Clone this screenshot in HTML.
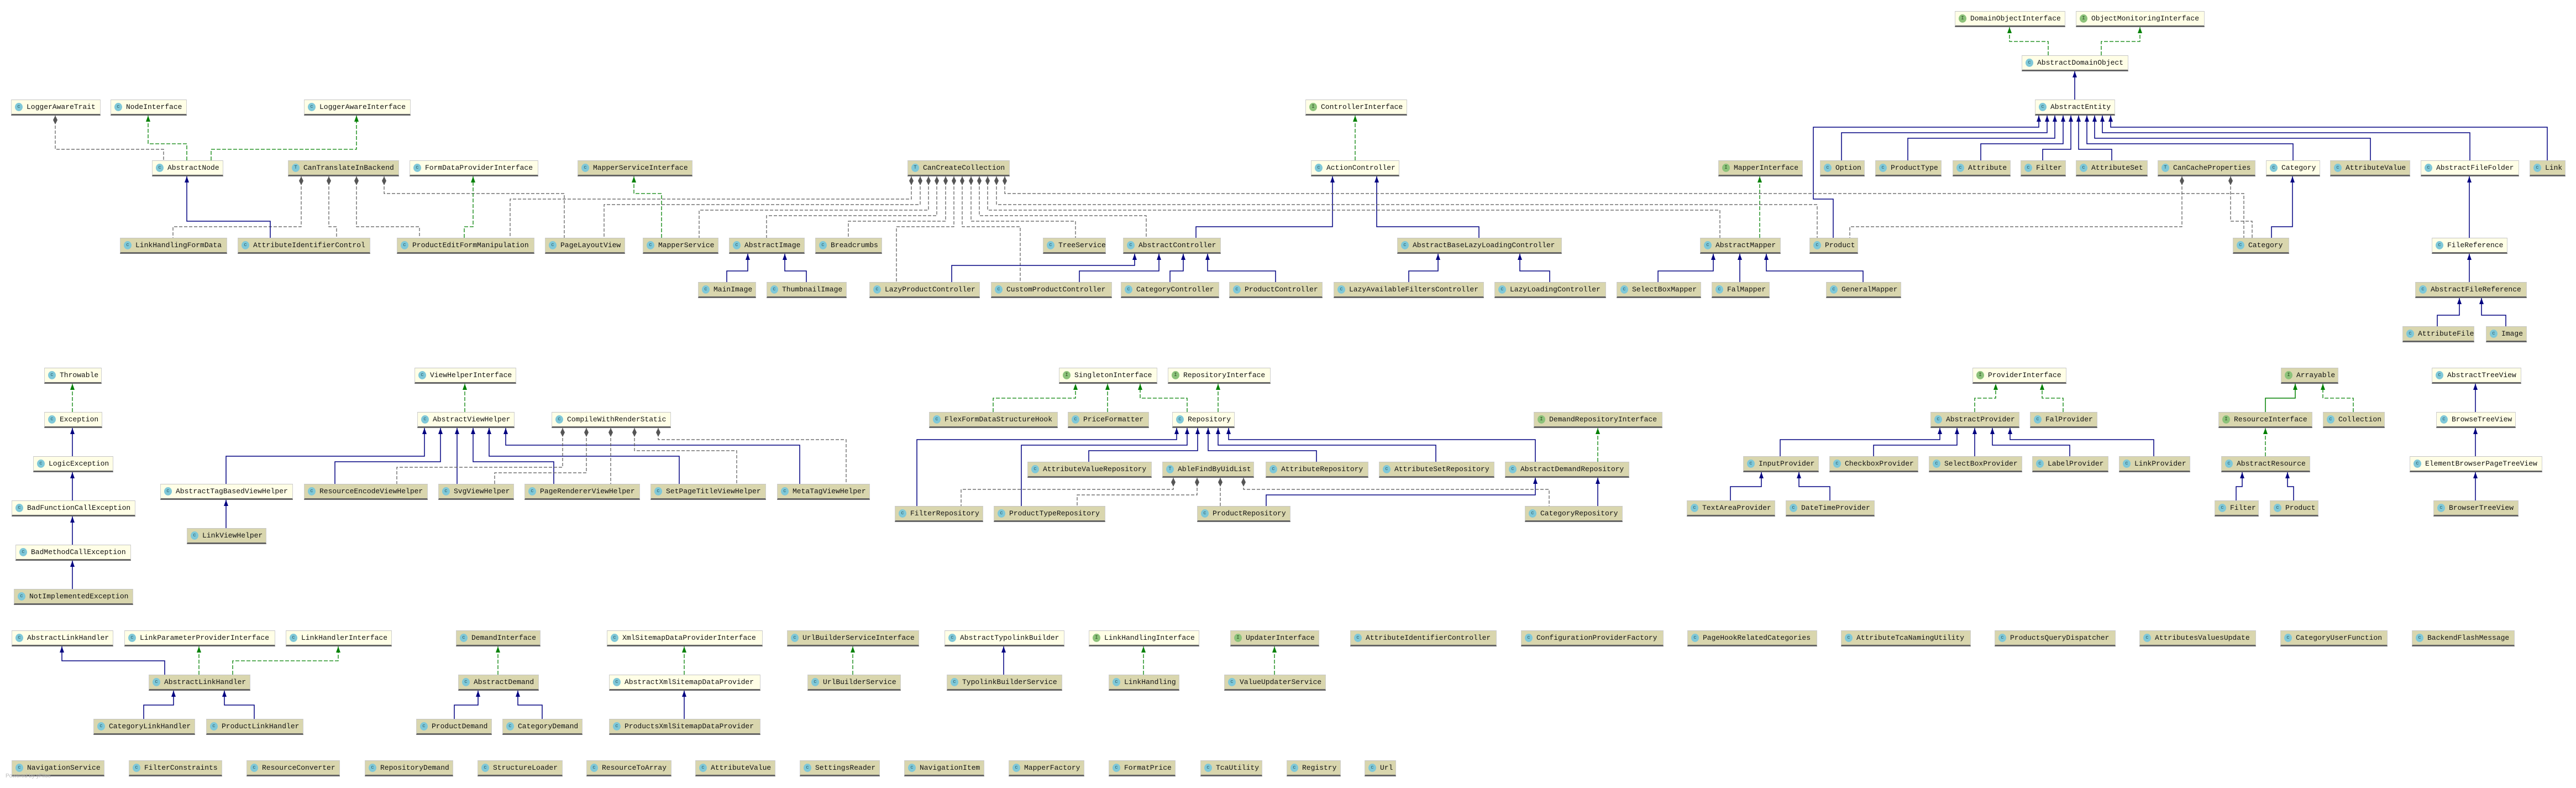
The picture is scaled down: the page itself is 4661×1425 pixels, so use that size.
<!DOCTYPE html>
<html><head><meta charset="utf-8">
<style>
html,body{margin:0;padding:0;background:#fff;}
body{width:4661px;height:1425px;position:relative;overflow:hidden;font-family:"Liberation Mono",monospace;}
.n{position:absolute;height:25px;border-top:1px solid #c4c4c4;border-left:1px solid #cfcfcf;border-right:1px solid #cfcfcf;border-bottom:3px solid #666;box-sizing:content-box;font-size:13px;line-height:25px;color:#111;white-space:nowrap;overflow:hidden;padding-left:27px;}
.y{background:#fffee6;}
.k{background:#d9d6ae;}
.n b{position:absolute;left:6px;top:5px;width:14px;height:15px;border-radius:50%;background:#7fc8d8;color:#2a5a66;font-size:9px;line-height:15px;text-align:center;font-weight:normal;}
.n b.g{background:#8cc27a;color:#2a4a20;}
svg{position:absolute;left:0;top:0;}
.inh{fill:none;stroke:#000080;stroke-width:1.5;marker-end:url(#an);}
.imp{fill:none;stroke:#008000;stroke-width:1.3;stroke-dasharray:7,3;marker-end:url(#ag);}
.ims{fill:none;stroke:#008000;stroke-width:1.5;marker-end:url(#ag);}
.use{fill:none;stroke:#555;stroke-width:1.2;stroke-dasharray:6,3;marker-start:url(#dm);}
.pw{position:absolute;left:10px;top:1398px;font-family:"Liberation Sans",sans-serif;font-size:10px;color:#bbb;}
</style></head><body>
<svg width="4661" height="1425" xmlns="http://www.w3.org/2000/svg">
<defs>
<marker id="an" viewBox="0 0 11 8" refX="11" refY="4" markerWidth="11" markerHeight="8" markerUnits="userSpaceOnUse" orient="auto"><path d="M0,0 L11,4 L0,8 z" fill="#000080"/></marker>
<marker id="ag" viewBox="0 0 11 8" refX="11" refY="4" markerWidth="11" markerHeight="8" markerUnits="userSpaceOnUse" orient="auto"><path d="M0,0 L11,4 L0,8 z" fill="#008000"/></marker>
<marker id="dm" viewBox="0 0 16 8" refX="0" refY="4" markerWidth="16" markerHeight="8" markerUnits="userSpaceOnUse" orient="auto"><path d="M0,4 L8,0 L16,4 L8,8 z" fill="#555"/></marker>
</defs>
<!-- section 1 -->
<path class="imp" d="M3706,100 V75 H3636 V49"/>
<path class="imp" d="M3802,100 V75 H3872 V49"/>
<path class="inh" d="M3754,180 V129"/>
<path class="inh" d="M3317,430 V360 H3281 V230 H3689 V209"/>
<path class="inh" d="M3332,290 V240 H3704 V209"/>
<path class="inh" d="M3452,290 V250 H3718 V209"/>
<path class="inh" d="M3584,290 V260 H3733 V209"/>
<path class="inh" d="M3696,290 V270 H3747 V209"/>
<path class="inh" d="M3821,290 V270 H3761 V209"/>
<path class="inh" d="M4149,290 V260 H3776 V209"/>
<path class="inh" d="M4289,290 V250 H3790 V209"/>
<path class="inh" d="M4469,290 V240 H3804 V209"/>
<path class="inh" d="M4609,290 V230 H3819 V209"/>
<path class="imp" d="M2452,290 V209"/>
<path class="inh" d="M2164,430 V410 H2411 V319"/>
<path class="inh" d="M2676,430 V410 H2491 V319"/>
<path class="imp" d="M3184,430 V319"/>
<path class="use" d="M1649,319 V360 H923 V430"/>
<path class="use" d="M1665,319 V370 H1093 V430"/>
<path class="use" d="M1680,319 V380 H1265 V430"/>
<path class="use" d="M1695,319 V390 H1387 V430"/>
<path class="use" d="M1711,319 V400 H1535 V430"/>
<path class="use" d="M1726,319 V410 H1622 V510"/>
<path class="use" d="M1741,319 V410 H1846 V510"/>
<path class="use" d="M1757,319 V400 H1946 V430"/>
<path class="use" d="M1772,319 V390 H2074 V430"/>
<path class="use" d="M1787,319 V380 H3112 V430"/>
<path class="use" d="M1803,319 V370 H3288 V430"/>
<path class="use" d="M1818,319 V350 H4060 V430"/>
<path class="use" d="M3948,319 V410 H3347 V430"/>
<path class="use" d="M4036,319 V400 H4075 V430"/>
<path class="inh" d="M4110,430 V410 H4148 V319"/>
<path class="inh" d="M4468,430 V319"/>
<path class="inh" d="M4468,510 V459"/>
<path class="inh" d="M4410,590 V570 H4450 V539"/>
<path class="inh" d="M4534,590 V570 H4490 V539"/>
<path class="use" d="M545,319 V410 H313 V430"/>
<path class="use" d="M595,319 V410 H609 V430"/>
<path class="use" d="M645,319 V410 H759 V430"/>
<path class="use" d="M695,319 V350 H1021 V430"/>
<path class="use" d="M100,209 V270 H296 V290"/>
<path class="imp" d="M338,290 V260 H268 V209"/>
<path class="imp" d="M382,290 V270 H645 V209"/>
<path class="inh" d="M489,430 V400 H338 V319"/>
<path class="imp" d="M840,430 V410 H856 V319"/>
<path class="imp" d="M1197,430 V350 H1147 V319"/>
<path class="inh" d="M1315,510 V490 H1353 V459"/>
<path class="inh" d="M1459,510 V490 H1420 V459"/>
<path class="inh" d="M1722,510 V480 H2053 V459"/>
<path class="inh" d="M1953,510 V490 H2097 V459"/>
<path class="inh" d="M2117,510 V490 H2141 V459"/>
<path class="inh" d="M2308,510 V490 H2185 V459"/>
<path class="inh" d="M2549,510 V490 H2602 V459"/>
<path class="inh" d="M2804,510 V490 H2750 V459"/>
<path class="inh" d="M3000,510 V490 H3100 V459"/>
<path class="inh" d="M3148,510 V459"/>
<path class="inh" d="M3371,510 V490 H3196 V459"/>
<!-- section 2 -->
<path class="imp" d="M131,745 V694"/>
<path class="inh" d="M131,825 V774"/>
<path class="inh" d="M131,905 V854"/>
<path class="inh" d="M131,985 V934"/>
<path class="inh" d="M131,1065 V1014"/>
<path class="imp" d="M841,745 V694"/>
<path class="inh" d="M409,875 V825 H768 V774"/>
<path class="inh" d="M606,875 V835 H797 V774"/>
<path class="inh" d="M827,875 V774"/>
<path class="inh" d="M1002,875 V835 H856 V774"/>
<path class="inh" d="M1229,875 V825 H885 V774"/>
<path class="inh" d="M1447,875 V805 H915 V774"/>
<path class="use" d="M1018,774 V845 H718 V875"/>
<path class="use" d="M1061,774 V855 H895 V875"/>
<path class="use" d="M1105,774 V875"/>
<path class="use" d="M1148,774 V815 H1333 V875"/>
<path class="use" d="M1191,774 V795 H1531 V875"/>
<path class="inh" d="M409,955 V904"/>
<path class="imp" d="M1797,745 V720 H1946 V694"/>
<path class="imp" d="M2004,745 V694"/>
<path class="imp" d="M2148,745 V720 H2063 V694"/>
<path class="imp" d="M2204,745 V694"/>
<path class="inh" d="M1659,915 V795 H2129 V774"/>
<path class="inh" d="M1848,915 V805 H2148 V774"/>
<path class="inh" d="M1970,835 V815 H2167 V774"/>
<path class="inh" d="M2382,835 V815 H2186 V774"/>
<path class="inh" d="M2598,835 V805 H2204 V774"/>
<path class="inh" d="M2778,835 V795 H2223 V774"/>
<path class="inh" d="M2291,915 V895 H2778 V864"/>
<path class="inh" d="M2891,915 V864"/>
<path class="imp" d="M2891,835 V774"/>
<path class="use" d="M2123,864 V885 H1739 V915"/>
<path class="use" d="M2166,864 V895 H1949 V915"/>
<path class="use" d="M2208,864 V915"/>
<path class="use" d="M2250,864 V885 H2803 V915"/>
<path class="imp" d="M3573,745 V720 H3611 V694"/>
<path class="imp" d="M3733,745 V720 H3695 V694"/>
<path class="inh" d="M3221,825 V795 H3510 V774"/>
<path class="inh" d="M3390,825 V805 H3541 V774"/>
<path class="inh" d="M3573,825 V774"/>
<path class="inh" d="M3745,825 V805 H3605 V774"/>
<path class="inh" d="M3897,825 V795 H3637 V774"/>
<path class="inh" d="M3131,905 V880 H3187 V854"/>
<path class="inh" d="M3311,905 V880 H3255 V854"/>
<path class="ims" d="M4099,745 V720 H4153 V694"/>
<path class="imp" d="M4258,745 V720 H4203 V694"/>
<path class="imp" d="M4099,825 V774"/>
<path class="inh" d="M4046,905 V880 H4057 V854"/>
<path class="inh" d="M4150,905 V880 H4139 V854"/>
<path class="inh" d="M4479,745 V694"/>
<path class="inh" d="M4479,825 V774"/>
<path class="inh" d="M4479,905 V854"/>
<!-- section 3 -->
<path class="inh" d="M298,1220 V1195 H112 V1169"/>
<path class="imp" d="M360,1220 V1169"/>
<path class="imp" d="M421,1220 V1195 H612 V1169"/>
<path class="inh" d="M260,1300 V1275 H314 V1249"/>
<path class="inh" d="M460,1300 V1275 H406 V1249"/>
<path class="imp" d="M901,1220 V1169"/>
<path class="inh" d="M822,1300 V1275 H865 V1249"/>
<path class="inh" d="M981,1300 V1275 H937 V1249"/>
<path class="imp" d="M1238,1220 V1169"/>
<path class="inh" d="M1238,1300 V1249"/>
<path class="imp" d="M1543,1220 V1169"/>
<path class="inh" d="M1816,1220 V1169"/>
<path class="imp" d="M2069,1220 V1169"/>
<path class="imp" d="M2306,1220 V1169"/>
</svg>

<!-- section 1 nodes -->
<div class="n y" style="left:3537px;top:20px;width:171px"><b class="g">I</b>DomainObjectInterface</div>
<div class="n y" style="left:3756px;top:20px;width:204px"><b class="g">I</b>ObjectMonitoringInterface</div>
<div class="n y" style="left:3658px;top:100px;width:164px"><b>c</b>AbstractDomainObject</div>
<div class="n y" style="left:20px;top:180px;width:133px"><b>c</b>LoggerAwareTrait</div>
<div class="n y" style="left:200px;top:180px;width:109px"><b>c</b>NodeInterface</div>
<div class="n y" style="left:550px;top:180px;width:164px"><b>c</b>LoggerAwareInterface</div>
<div class="n y" style="left:2362px;top:180px;width:155px"><b class="g">I</b>ControllerInterface</div>
<div class="n y" style="left:3682px;top:180px;width:116px"><b>c</b>AbstractEntity</div>

<div class="n y" style="left:275px;top:290px;width:100px"><b>c</b>AbstractNode</div>
<div class="n k" style="left:521px;top:290px;width:172px"><b>T</b>CanTranslateInBackend</div>
<div class="n y" style="left:741px;top:290px;width:204px"><b>c</b>FormDataProviderInterface</div>
<div class="n k" style="left:1045px;top:290px;width:179px"><b>c</b>MapperServiceInterface</div>
<div class="n k" style="left:1642px;top:290px;width:156px"><b>T</b>CanCreateCollection</div>
<div class="n y" style="left:2372px;top:290px;width:131px"><b>c</b>ActionController</div>
<div class="n k" style="left:3109px;top:290px;width:124px"><b class="g">I</b>MapperInterface</div>
<div class="n k" style="left:3293px;top:290px;width:52px"><b>c</b>Option</div>
<div class="n k" style="left:3393px;top:290px;width:91px"><b>c</b>ProductType</div>
<div class="n k" style="left:3533px;top:290px;width:76px"><b>c</b>Attribute</div>
<div class="n k" style="left:3656px;top:290px;width:53px"><b>c</b>Filter</div>
<div class="n k" style="left:3756px;top:290px;width:101px"><b>c</b>AttributeSet</div>
<div class="n k" style="left:3904px;top:290px;width:148px"><b>T</b>CanCacheProperties</div>
<div class="n y" style="left:4100px;top:290px;width:69px"><b>c</b>Category</div>
<div class="n k" style="left:4216px;top:290px;width:116px"><b>c</b>AttributeValue</div>
<div class="n y" style="left:4380px;top:290px;width:149px"><b>c</b>AbstractFileFolder</div>
<div class="n k" style="left:4577px;top:290px;width:36px"><b>c</b>Link</div>

<div class="n k" style="left:217px;top:430px;width:165px"><b>c</b>LinkHandlingFormData</div>
<div class="n k" style="left:430px;top:430px;width:211px"><b>c</b>AttributeIdentifierControl</div>
<div class="n k" style="left:718px;top:430px;width:220px"><b>c</b>ProductEditFormManipulation</div>
<div class="n k" style="left:986px;top:430px;width:116px"><b>c</b>PageLayoutView</div>
<div class="n k" style="left:1163px;top:430px;width:108px"><b>c</b>MapperService</div>
<div class="n k" style="left:1319px;top:430px;width:108px"><b>c</b>AbstractImage</div>
<div class="n k" style="left:1475px;top:430px;width:92px"><b>c</b>Breadcrumbs</div>
<div class="n k" style="left:1887px;top:430px;width:85px"><b>c</b>TreeService</div>
<div class="n k" style="left:2032px;top:430px;width:148px"><b>c</b>AbstractController</div>
<div class="n k" style="left:2528px;top:430px;width:269px"><b>c</b>AbstractBaseLazyLoadingController</div>
<div class="n k" style="left:3076px;top:430px;width:117px"><b>c</b>AbstractMapper</div>
<div class="n k" style="left:3274px;top:430px;width:59px"><b>c</b>Product</div>
<div class="n k" style="left:4040px;top:430px;width:73px"><b>c</b>Category</div>
<div class="n y" style="left:4400px;top:430px;width:108px"><b>c</b>FileReference</div>

<div class="n k" style="left:1263px;top:510px;width:76px"><b>c</b>MainImage</div>
<div class="n k" style="left:1387px;top:510px;width:116px"><b>c</b>ThumbnailImage</div>
<div class="n k" style="left:1573px;top:510px;width:171px"><b>c</b>LazyProductController</div>
<div class="n k" style="left:1793px;top:510px;width:190px"><b>c</b>CustomProductController</div>
<div class="n k" style="left:2028px;top:510px;width:149px"><b>c</b>CategoryController</div>
<div class="n k" style="left:2224px;top:510px;width:140px"><b>c</b>ProductController</div>
<div class="n k" style="left:2413px;top:510px;width:243px"><b>c</b>LazyAvailableFiltersController</div>
<div class="n k" style="left:2704px;top:510px;width:173px"><b>c</b>LazyLoadingController</div>
<div class="n k" style="left:2925px;top:510px;width:124px"><b>c</b>SelectBoxMapper</div>
<div class="n k" style="left:3097px;top:510px;width:76px"><b>c</b>FalMapper</div>
<div class="n k" style="left:3304px;top:510px;width:107px"><b>c</b>GeneralMapper</div>
<div class="n k" style="left:4370px;top:510px;width:173px"><b>c</b>AbstractFileReference</div>
<div class="n k" style="left:4347px;top:590px;width:101px"><b>c</b>AttributeFile</div>
<div class="n k" style="left:4498px;top:590px;width:45px"><b>c</b>Image</div>

<!-- section 2 nodes -->
<div class="n y" style="left:80px;top:665px;width:75px"><b>c</b>Throwable</div>
<div class="n y" style="left:80px;top:745px;width:76px"><b>c</b>Exception</div>
<div class="n y" style="left:60px;top:825px;width:116px"><b>c</b>LogicException</div>
<div class="n y" style="left:21px;top:905px;width:195px"><b>c</b>BadFunctionCallException</div>
<div class="n y" style="left:28px;top:985px;width:180px"><b>c</b>BadMethodCallException</div>
<div class="n k" style="left:25px;top:1065px;width:187px"><b>c</b>NotImplementedException</div>
<div class="n y" style="left:750px;top:665px;width:155px"><b>c</b>ViewHelperInterface</div>
<div class="n y" style="left:755px;top:745px;width:147px"><b>c</b>AbstractViewHelper</div>
<div class="n y" style="left:998px;top:745px;width:187px"><b>c</b>CompileWithRenderStatic</div>
<div class="n y" style="left:290px;top:875px;width:211px"><b>c</b>AbstractTagBasedViewHelper</div>
<div class="n k" style="left:550px;top:875px;width:195px"><b>c</b>ResourceEncodeViewHelper</div>
<div class="n k" style="left:793px;top:875px;width:108px"><b>c</b>SvgViewHelper</div>
<div class="n k" style="left:949px;top:875px;width:180px"><b>c</b>PageRendererViewHelper</div>
<div class="n k" style="left:1177px;top:875px;width:180px"><b>c</b>SetPageTitleViewHelper</div>
<div class="n k" style="left:1406px;top:875px;width:139px"><b>c</b>MetaTagViewHelper</div>
<div class="n k" style="left:338px;top:955px;width:115px"><b>c</b>LinkViewHelper</div>

<div class="n y" style="left:1916px;top:665px;width:149px"><b class="g">I</b>SingletonInterface</div>
<div class="n y" style="left:2113px;top:665px;width:157px"><b class="g">I</b>RepositoryInterface</div>
<div class="n k" style="left:1681px;top:745px;width:204px"><b>c</b>FlexFormDataStructureHook</div>
<div class="n k" style="left:1932px;top:745px;width:118px"><b>c</b>PriceFormatter</div>
<div class="n y" style="left:2121px;top:745px;width:84px"><b>c</b>Repository</div>
<div class="n k" style="left:2775px;top:745px;width:204px"><b class="g">I</b>DemandRepositoryInterface</div>
<div class="n k" style="left:1859px;top:835px;width:196px"><b>c</b>AttributeValueRepository</div>
<div class="n k" style="left:2103px;top:835px;width:137px"><b>T</b>AbleFindByUidList</div>
<div class="n k" style="left:2290px;top:835px;width:157px"><b>c</b>AttributeRepository</div>
<div class="n k" style="left:2495px;top:835px;width:180px"><b>c</b>AttributeSetRepository</div>
<div class="n k" style="left:2723px;top:835px;width:196px"><b>c</b>AbstractDemandRepository</div>
<div class="n k" style="left:1619px;top:915px;width:131px"><b>c</b>FilterRepository</div>
<div class="n k" style="left:1798px;top:915px;width:173px"><b>c</b>ProductTypeRepository</div>
<div class="n k" style="left:2166px;top:915px;width:140px"><b>c</b>ProductRepository</div>
<div class="n k" style="left:2759px;top:915px;width:148px"><b>c</b>CategoryRepository</div>

<div class="n y" style="left:3569px;top:665px;width:141px"><b class="g">I</b>ProviderInterface</div>
<div class="n k" style="left:3493px;top:745px;width:132px"><b>c</b>AbstractProvider</div>
<div class="n k" style="left:3673px;top:745px;width:93px"><b>c</b>FalProvider</div>
<div class="n k" style="left:3154px;top:825px;width:108px"><b>c</b>InputProvider</div>
<div class="n k" style="left:3310px;top:825px;width:132px"><b>c</b>CheckboxProvider</div>
<div class="n k" style="left:3490px;top:825px;width:140px"><b>c</b>SelectBoxProvider</div>
<div class="n k" style="left:3677px;top:825px;width:109px"><b>c</b>LabelProvider</div>
<div class="n k" style="left:3834px;top:825px;width:100px"><b>c</b>LinkProvider</div>
<div class="n k" style="left:3052px;top:905px;width:131px"><b>c</b>TextAreaProvider</div>
<div class="n k" style="left:3231px;top:905px;width:132px"><b>c</b>DateTimeProvider</div>
<div class="n k" style="left:4127px;top:665px;width:75px"><b class="g">I</b>Arrayable</div>
<div class="n k" style="left:4014px;top:745px;width:141px"><b class="g">I</b>ResourceInterface</div>
<div class="n k" style="left:4203px;top:745px;width:83px"><b>c</b>Collection</div>
<div class="n k" style="left:4019px;top:825px;width:132px"><b>c</b>AbstractResource</div>
<div class="n k" style="left:4007px;top:905px;width:51px"><b>c</b>Filter</div>
<div class="n k" style="left:4107px;top:905px;width:59px"><b>c</b>Product</div>
<div class="n y" style="left:4400px;top:665px;width:133px"><b>c</b>AbstractTreeView</div>
<div class="n y" style="left:4408px;top:745px;width:115px"><b>c</b>BrowseTreeView</div>
<div class="n y" style="left:4360px;top:825px;width:211px"><b>c</b>ElementBrowserPageTreeView</div>
<div class="n k" style="left:4403px;top:905px;width:125px"><b>c</b>BrowserTreeView</div>

<!-- section 3 nodes -->
<div class="n y" style="left:21px;top:1140px;width:155px"><b>c</b>AbstractLinkHandler</div>
<div class="n y" style="left:225px;top:1140px;width:244px"><b>c</b>LinkParameterProviderInterface</div>
<div class="n y" style="left:517px;top:1140px;width:163px"><b>c</b>LinkHandlerInterface</div>
<div class="n k" style="left:825px;top:1140px;width:124px"><b>c</b>DemandInterface</div>
<div class="n y" style="left:1098px;top:1140px;width:253px"><b>c</b>XmlSitemapDataProviderInterface</div>
<div class="n k" style="left:1424px;top:1140px;width:210px"><b>c</b>UrlBuilderServiceInterface</div>
<div class="n y" style="left:1709px;top:1140px;width:188px"><b>c</b>AbstractTypolinkBuilder</div>
<div class="n y" style="left:1970px;top:1140px;width:171px"><b class="g">I</b>LinkHandlingInterface</div>
<div class="n k" style="left:2226px;top:1140px;width:132px"><b class="g">I</b>UpdaterInterface</div>
<div class="n k" style="left:2443px;top:1140px;width:236px"><b>c</b>AttributeIdentifierController</div>
<div class="n k" style="left:2752px;top:1140px;width:229px"><b>c</b>ConfigurationProviderFactory</div>
<div class="n k" style="left:3053px;top:1140px;width:206px"><b>c</b>PageHookRelatedCategories</div>
<div class="n k" style="left:3331px;top:1140px;width:206px"><b>c</b>AttributeTcaNamingUtility</div>
<div class="n k" style="left:3609px;top:1140px;width:190px"><b>c</b>ProductsQueryDispatcher</div>
<div class="n k" style="left:3871px;top:1140px;width:182px"><b>c</b>AttributesValuesUpdate</div>
<div class="n k" style="left:4126px;top:1140px;width:165px"><b>c</b>CategoryUserFunction</div>
<div class="n k" style="left:4364px;top:1140px;width:157px"><b>c</b>BackendFlashMessage</div>

<div class="n k" style="left:269px;top:1220px;width:155px"><b>c</b>AbstractLinkHandler</div>
<div class="n k" style="left:829px;top:1220px;width:117px"><b>c</b>AbstractDemand</div>
<div class="n y" style="left:1102px;top:1220px;width:245px"><b>c</b>AbstractXmlSitemapDataProvider</div>
<div class="n k" style="left:1461px;top:1220px;width:140px"><b>c</b>UrlBuilderService</div>
<div class="n k" style="left:1713px;top:1220px;width:180px"><b>c</b>TypolinkBuilderService</div>
<div class="n k" style="left:2006px;top:1220px;width:99px"><b>c</b>LinkHandling</div>
<div class="n k" style="left:2215px;top:1220px;width:155px"><b>c</b>ValueUpdaterService</div>

<div class="n k" style="left:169px;top:1300px;width:155px"><b>c</b>CategoryLinkHandler</div>
<div class="n k" style="left:373px;top:1300px;width:147px"><b>c</b>ProductLinkHandler</div>
<div class="n k" style="left:753px;top:1300px;width:108px"><b>c</b>ProductDemand</div>
<div class="n k" style="left:909px;top:1300px;width:116px"><b>c</b>CategoryDemand</div>
<div class="n k" style="left:1102px;top:1300px;width:245px"><b>c</b>ProductsXmlSitemapDataProvider</div>

<div class="n k" style="left:21px;top:1375px;width:139px"><b>c</b>NavigationService</div>
<div class="n k" style="left:233px;top:1375px;width:140px"><b>c</b>FilterConstraints</div>
<div class="n k" style="left:446px;top:1375px;width:140px"><b>c</b>ResourceConverter</div>
<div class="n k" style="left:660px;top:1375px;width:131px"><b>c</b>RepositoryDemand</div>
<div class="n k" style="left:864px;top:1375px;width:125px"><b>c</b>StructureLoader</div>
<div class="n k" style="left:1061px;top:1375px;width:125px"><b>c</b>ResourceToArray</div>
<div class="n k" style="left:1258px;top:1375px;width:116px"><b>c</b>AttributeValue</div>
<div class="n k" style="left:1447px;top:1375px;width:116px"><b>c</b>SettingsReader</div>
<div class="n k" style="left:1636px;top:1375px;width:116px"><b>c</b>NavigationItem</div>
<div class="n k" style="left:1825px;top:1375px;width:108px"><b>c</b>MapperFactory</div>
<div class="n k" style="left:2006px;top:1375px;width:92px"><b>c</b>FormatPrice</div>
<div class="n k" style="left:2172px;top:1375px;width:83px"><b>c</b>TcaUtility</div>
<div class="n k" style="left:2328px;top:1375px;width:69px"><b>c</b>Registry</div>
<div class="n k" style="left:2469px;top:1375px;width:28px"><b>c</b>Url</div>

<div class="pw">Powered by yFiles</div>
</body></html>
